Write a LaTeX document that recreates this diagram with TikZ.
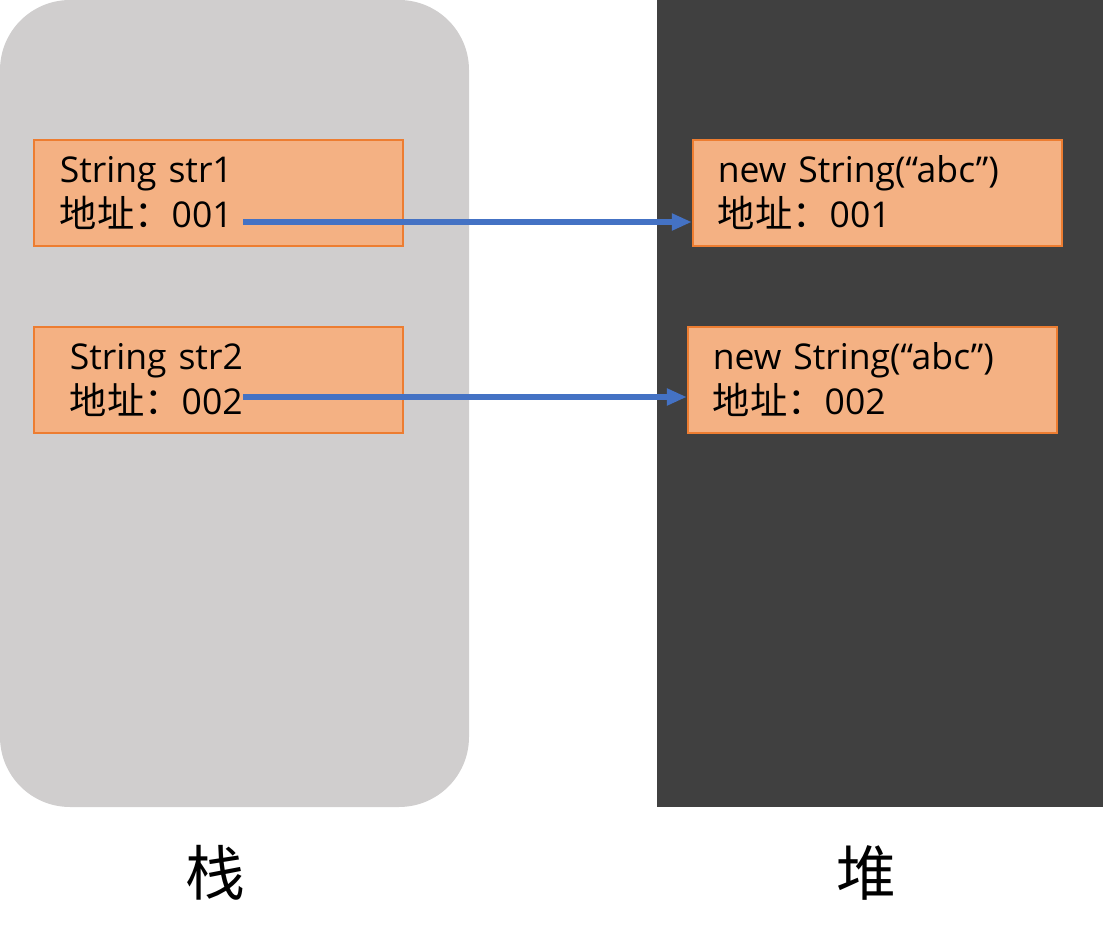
\documentclass[tikz,border=0pt]{standalone}
\usepackage{fontspec}
\setmainfont{Open Sans}
\newfontfamily\cjk{Noto Sans CJK SC}
\usetikzlibrary{arrows.meta, positioning}

\definecolor{stackgray}{HTML}{D0CECE}
\definecolor{heapgray}{HTML}{404040}
\definecolor{boxfill}{HTML}{F4B183}
\definecolor{boxline}{HTML}{ED7D31}
\definecolor{ptrblue}{HTML}{4472C4}

\newcommand{\addr}{{\cjk\fontsize{10.6pt}{12.8pt}\selectfont 地址：}}

\begin{document}
\begin{tikzpicture}[x=0.01cm, y=-0.01cm,
  membox/.style={draw=boxline, fill=boxfill, line width=0.6pt, inner ysep=0pt,
    minimum height=1.06cm, inner xsep=#1, text width=3.69cm-2*#1, align=left,
    font=\fontsize{10.1pt}{12.8pt}\selectfont},
  ptr/.style={draw=ptrblue, line width=1.6pt, -{Triangle[length=0.2cm, width=0.16cm]}},
  area/.style={font=\cjk\fontsize{17pt}{20pt}\selectfont}]
\useasboundingbox (0,0) rectangle (1103,943);
\fill[stackgray, rounded corners=0.7cm] (0,0) rectangle (469,807);
\fill[heapgray] (657,0) rectangle (1103,807);

\node[membox=0.26cm] (s1) at (218.5,193) {String str1\\\addr 001};
\node[membox=0.36cm] (s2) at (218.5,380) {String str2\\\addr 002};
\node[membox=0.25cm] (h1) at (877.5,193) {new String(“abc”)\\\addr 001};
\node[membox=0.25cm] (h2) at (872.5,380) {new String(“abc”)\\\addr 002};

\coordinate (p1) at (243,222);
\coordinate (p2) at (243,397);
\draw[ptr] (p1) -- (h1.west |- p1);
\draw[ptr] (p2) -- (h2.west |- p2);

\node[area] (stack) at (215,873) {栈};
\node[area] (heap) at (866,873) {堆};
\end{tikzpicture}
\end{document}
